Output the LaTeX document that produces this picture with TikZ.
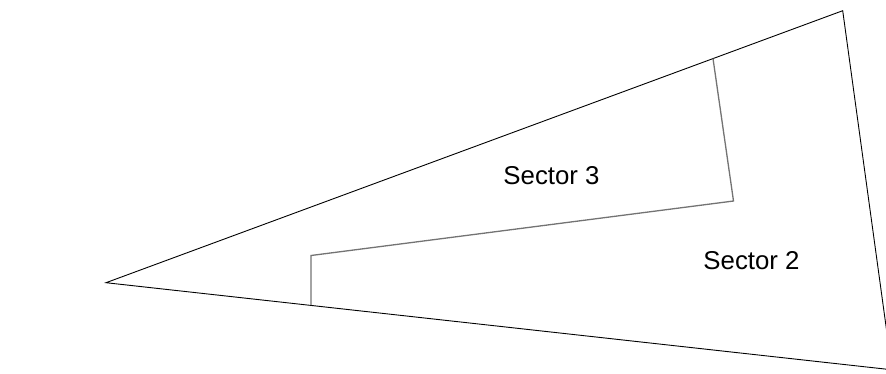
\documentclass[tikz,border=0pt]{standalone}
\usepackage{fontspec}
\setmainfont{Liberation Sans}
\begin{document}
\begin{tikzpicture}[x=1pt,y=-1pt,
  outer/.style={draw=black,line width=0.9pt,line join=miter},
  inner/.style={draw=black!55,line width=1.3pt,line join=miter},
  lbl/.style={font=\fontsize{25.8}{30}\selectfont,inner sep=0pt}]
\useasboundingbox (0,0) rectangle (886,373);
\clip (0,0) rectangle (886,373);
\draw[outer] (106,282.7) -- (842.7,10.7) -- (892,369.8) -- cycle;
\draw[inner] (713,58.5) -- (733.5,201) -- (311,255.5) -- (311,305);
\node[lbl] (s3) at (551.5,176) {Sector 3};
\node[lbl] (s2) at (751.5,261) {Sector 2};
\end{tikzpicture}
\end{document}
